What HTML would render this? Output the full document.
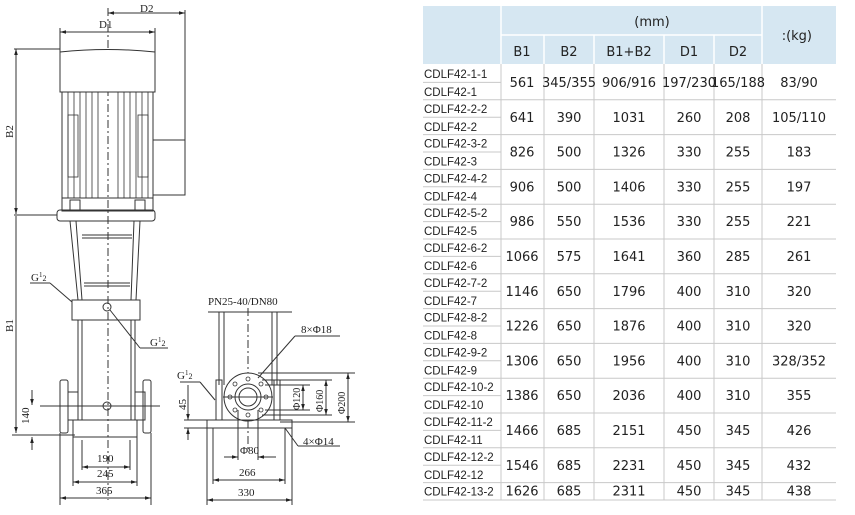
<!DOCTYPE html>
<html><head><meta charset="utf-8"><style>
html,body{margin:0;padding:0;background:#fff;width:855px;height:515px;overflow:hidden}
svg{display:block}
.s{font-family:"Liberation Serif",serif;font-size:11px;fill:#222}
.t{font-family:"DejaVu Sans","Liberation Sans",sans-serif;font-size:13px;fill:#222}
.n{font-family:"Liberation Sans",sans-serif;font-size:11.5px;fill:#222}
</style></head><body>
<svg width="855" height="515" viewBox="0 0 855 515" xmlns="http://www.w3.org/2000/svg">
<defs><marker id="a" viewBox="0 0 10 10" refX="10" refY="5" markerWidth="6" markerHeight="6" orient="auto-start-reverse"><path d="M0,2 L10,5 L0,8z" fill="#222"/></marker></defs>
<g stroke="#333" stroke-width="1" fill="none">
<line x1="108" y1="13" x2="185" y2="13" marker-start="url(#a)" marker-end="url(#a)"/>
<line x1="185" y1="10" x2="185" y2="195"/>
<line x1="60" y1="32" x2="155" y2="32" marker-start="url(#a)" marker-end="url(#a)"/>
<line x1="60" y1="28" x2="60" y2="52"/><line x1="155" y1="28" x2="155" y2="52"/>
<line x1="108" y1="8" x2="108" y2="500" stroke-dasharray="8,3,2,3"/>
<path d="M60,52 Q108,47 155,52 L155,92 L60,92 Z" fill="#fff"/>
<rect x="62" y="92" width="91" height="106"/>
<rect x="153" y="140" width="32" height="55"/>
<g stroke-width="0.8">
<line x1="68" y1="92" x2="68" y2="198"/><line x1="74" y1="92" x2="74" y2="198"/><line x1="80" y1="92" x2="80" y2="198"/><line x1="86" y1="92" x2="86" y2="198"/><line x1="92" y1="92" x2="92" y2="198"/><line x1="98" y1="92" x2="98" y2="198"/>
<line x1="118" y1="92" x2="118" y2="198"/><line x1="124" y1="92" x2="124" y2="198"/><line x1="130" y1="92" x2="130" y2="198"/><line x1="136" y1="92" x2="136" y2="198"/><line x1="142" y1="92" x2="142" y2="198"/><line x1="148" y1="92" x2="148" y2="198"/>
<rect x="68" y="115" width="10" height="62"/><rect x="138" y="115" width="10" height="62"/>
</g>
<rect x="62" y="198" width="91" height="13"/>
<rect x="57" y="210" width="98" height="11" rx="3"/>
<rect x="70" y="200" width="10" height="10"/><rect x="135" y="200" width="10" height="10"/>
<path d="M70,221 L78,300 M140,221 L136,300 M76,221 L82,300 M134,221 L131,300"/>
<line x1="82" y1="235" x2="132" y2="235"/><line x1="82" y1="238" x2="132" y2="238"/>
<line x1="84" y1="283" x2="130" y2="283"/><line x1="84" y1="286" x2="130" y2="286"/>
<rect x="72" y="300" width="68" height="20"/>
<circle cx="107" cy="307" r="4"/>
<rect x="78" y="320" width="57" height="100"/>
<line x1="82" y1="320" x2="82" y2="420"/><line x1="131" y1="320" x2="131" y2="420"/>
<rect x="60" y="380" width="8" height="53" rx="2"/><rect x="143" y="380" width="8" height="53" rx="2"/>
<rect x="68" y="392" width="10" height="28"/><rect x="135" y="392" width="10" height="28"/>
<path d="M73,420 L137,420 L137,437 L73,437 Z"/>
<circle cx="107" cy="406" r="4"/><line x1="40" y1="406" x2="160" y2="406"/>
<line x1="16" y1="49" x2="16" y2="214" marker-start="url(#a)" marker-end="url(#a)"/>
<line x1="14" y1="49" x2="60" y2="49"/><line x1="14" y1="215" x2="57" y2="215"/>
<line x1="16" y1="216" x2="16" y2="433" marker-end="url(#a)"/>
<line x1="12" y1="435" x2="75" y2="435"/>
<line x1="32" y1="390" x2="32" y2="405" marker-end="url(#a)"/><line x1="32" y1="450" x2="32" y2="437" marker-end="url(#a)"/>
<line x1="82" y1="440" x2="82" y2="470"/><line x1="130" y1="440" x2="130" y2="470"/>
<line x1="73" y1="437" x2="73" y2="486"/><line x1="137" y1="437" x2="137" y2="486"/>
<line x1="60" y1="433" x2="60" y2="505"/><line x1="151" y1="433" x2="151" y2="505"/>
<line x1="82" y1="467" x2="130" y2="467" marker-start="url(#a)" marker-end="url(#a)"/>
<line x1="73" y1="482" x2="137" y2="482" marker-start="url(#a)" marker-end="url(#a)"/>
<line x1="60" y1="498" x2="151" y2="498" marker-start="url(#a)" marker-end="url(#a)"/>
<line x1="30" y1="283" x2="50" y2="283"/><line x1="50" y1="283" x2="72" y2="302"/>
<line x1="110" y1="310" x2="140" y2="348"/><line x1="140" y1="348" x2="168" y2="348"/>
<line x1="208" y1="312" x2="292" y2="312"/>
<line x1="219" y1="312" x2="219" y2="385"/><line x1="224" y1="312" x2="224" y2="385"/>
<line x1="272" y1="312" x2="272" y2="385"/><line x1="277" y1="312" x2="277" y2="385"/>
<line x1="248" y1="308" x2="248" y2="450" stroke-dasharray="8,3,2,3"/>
<rect x="216" y="380" width="6" height="40"/><rect x="274" y="380" width="6" height="40"/>
<circle cx="248" cy="397" r="24" fill="#fff"/><circle cx="248" cy="397" r="13"/><circle cx="248" cy="397" r="9"/>
<g stroke-width="0.8"><circle cx="248" cy="379" r="2"/><circle cx="248" cy="415" r="2"/><circle cx="230" cy="397" r="2"/><circle cx="266" cy="397" r="2"/><circle cx="235" cy="384" r="2"/><circle cx="261" cy="384" r="2"/><circle cx="235" cy="410" r="2"/><circle cx="261" cy="410" r="2"/></g>
<rect x="207" y="420" width="85" height="8"/>
<line x1="223" y1="397" x2="273" y2="397"/>
<line x1="258" y1="373" x2="355" y2="373"/><line x1="262" y1="380" x2="332" y2="380"/><line x1="265" y1="385" x2="310" y2="385"/><line x1="265" y1="410" x2="310" y2="410"/>
<line x1="262" y1="415" x2="332" y2="415"/><line x1="280" y1="422" x2="355" y2="422"/>
<line x1="303" y1="385" x2="303" y2="410" marker-start="url(#a)" marker-end="url(#a)"/>
<line x1="326" y1="380" x2="326" y2="415" marker-start="url(#a)" marker-end="url(#a)"/>
<line x1="348" y1="373" x2="348" y2="422" marker-start="url(#a)" marker-end="url(#a)"/>
<line x1="258" y1="378" x2="295" y2="336"/><line x1="295" y1="336" x2="340" y2="336"/>
<line x1="285" y1="428" x2="298" y2="446"/><line x1="298" y1="446" x2="340" y2="446"/>
<line x1="180" y1="382" x2="200" y2="382"/><line x1="200" y1="382" x2="215" y2="400"/>
<line x1="188" y1="385" x2="188" y2="420" marker-end="url(#a)"/><line x1="188" y1="440" x2="188" y2="428" marker-end="url(#a)"/>
<line x1="184" y1="420" x2="207" y2="420"/><line x1="184" y1="428" x2="207" y2="428"/>
<line x1="238" y1="410" x2="238" y2="460"/><line x1="258" y1="410" x2="258" y2="460"/>
<line x1="224" y1="457" x2="238" y2="457" marker-end="url(#a)"/><line x1="276" y1="457" x2="258" y2="457" marker-end="url(#a)"/>
<line x1="213" y1="428" x2="213" y2="484"/><line x1="285" y1="428" x2="285" y2="484"/>
<line x1="207" y1="428" x2="207" y2="505"/><line x1="292" y1="428" x2="292" y2="505"/>
<line x1="213" y1="480" x2="285" y2="480" marker-start="url(#a)" marker-end="url(#a)"/>
<line x1="207" y1="500" x2="292" y2="500" marker-start="url(#a)" marker-end="url(#a)"/>
</g>
<g class="s">
<text x="140" y="12">D2</text><text x="99" y="28">D1</text>
<text transform="translate(13,138) rotate(-90)">B2</text>
<text transform="translate(13,332) rotate(-90)">B1</text>
<text transform="translate(29,424) rotate(-90)">140</text>
<text x="31" y="281">G<tspan font-size="7" dy="-4">1</tspan><tspan font-size="8" dy="4">2</tspan></text>
<text x="150" y="346">G<tspan font-size="7" dy="-4">1</tspan><tspan font-size="8" dy="4">2</tspan></text>
<text x="97" y="462">190</text><text x="97" y="477">245</text><text x="96" y="494">365</text>
<text x="208" y="305">PN25-40/DN80</text>
<text x="301" y="333">8×Φ18</text>
<text x="303" y="445">4×Φ14</text>
<text x="177" y="379">G<tspan font-size="7" dy="-4">1</tspan><tspan font-size="8" dy="4">2</tspan></text>
<text transform="translate(186,410) rotate(-90)">45</text>
<text transform="translate(300,410) rotate(-90)" font-size="10">Φ120</text>
<text transform="translate(323,412) rotate(-90)" font-size="10">Φ160</text>
<text transform="translate(345,414) rotate(-90)" font-size="10">Φ200</text>
<text x="240" y="454">Φ80</text><text x="239" y="476">266</text><text x="238" y="496">330</text>
</g>
<rect x="423" y="6" width="413" height="58" fill="#d6e7f2"/>
<g stroke="#fff" stroke-width="1.5"><line x1="501" y1="6" x2="501" y2="64"/><line x1="762" y1="6" x2="762" y2="64"/><line x1="501" y1="35" x2="762" y2="35"/>
<line x1="544" y1="35" x2="544" y2="64"/><line x1="594" y1="35" x2="594" y2="64"/><line x1="664" y1="35" x2="664" y2="64"/><line x1="714" y1="35" x2="714" y2="64"/></g>
<g stroke="#c8c8c8" stroke-width="1">
<line x1="501" y1="64" x2="501" y2="500"/><line x1="544" y1="64" x2="544" y2="500"/><line x1="594" y1="64" x2="594" y2="500"/><line x1="664" y1="64" x2="664" y2="500"/><line x1="714" y1="64" x2="714" y2="500"/><line x1="762" y1="64" x2="762" y2="500"/>
</g>
<g class="t" text-anchor="middle">
<text x="652" y="26">(mm)</text><text x="812" y="40" text-anchor="end">:(kg)</text>
<text x="522" y="56">B1</text><text x="569" y="56">B2</text><text x="629" y="56">B1+B2</text><text x="689" y="56">D1</text><text x="738" y="56">D2</text>
</g>
<g id="rows"></g>
</svg>
<script>
var d=[["1-1","1","561","345/355","906/916","197/230","165/188","83/90"],["2-2","2","641","390","1031","260","208","105/110"],["3-2","3","826","500","1326","330","255","183"],["4-2","4","906","500","1406","330","255","197"],["5-2","5","986","550","1536","330","255","221"],["6-2","6","1066","575","1641","360","285","261"],["7-2","7","1146","650","1796","400","310","320"],["8-2","8","1226","650","1876","400","310","320"],["9-2","9","1306","650","1956","400","310","328/352"],["10-2","10","1386","650","2036","400","310","355"],["11-2","11","1466","685","2151","450","345","426"],["12-2","12","1546","685","2231","450","345","432"]];
var xs=[522,569,629,689,738,799],s="";
for(var i=0;i<12;i++){var y=65+i*34.8,r=d[i];
s+='<line x1="423" y1="'+(y+34.8).toFixed(1)+'" x2="836" y2="'+(y+34.8).toFixed(1)+'" stroke="#c8c8c8"/>';
s+='<line x1="423" y1="'+(y+17.4).toFixed(1)+'" x2="501" y2="'+(y+17.4).toFixed(1)+'" stroke="#c8c8c8"/>';
s+='<text class="n" x="424" y="'+(y+13).toFixed(1)+'">CDLF42-'+r[0]+'</text><text class="n" x="424" y="'+(y+31).toFixed(1)+'">CDLF42-'+r[1]+'</text>';
for(var j=0;j<6;j++)s+='<text class="t" text-anchor="middle" x="'+xs[j]+'" y="'+(y+22).toFixed(1)+'">'+r[j+2]+'</text>';}
var y=482.6;s+='<text class="n" x="424" y="'+(y+13)+'">CDLF42-13-2</text>';
var l=["1626","685","2311","450","345","438"];for(var j=0;j<6;j++)s+='<text class="t" text-anchor="middle" x="'+xs[j]+'" y="'+(y+13)+'">'+l[j]+'</text>';
s+='<line x1="423" y1="500" x2="836" y2="500" stroke="#c8c8c8"/>';
document.getElementById("rows").innerHTML=s;
</script>
</body></html>
